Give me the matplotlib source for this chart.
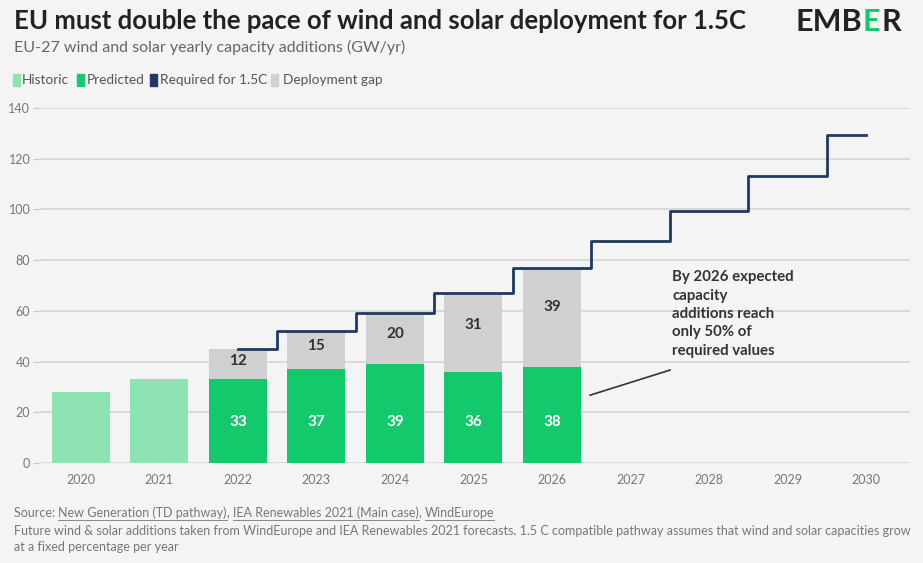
import numpy as np
import matplotlib.pyplot as plt

years = np.arange(2020, 2031)
hist_years = [2020, 2021]
hist_vals = [28, 33]
pred_years = [2022, 2023, 2024, 2025, 2026]
pred_vals = [33, 37, 39, 36, 38]
gap_vals = [12, 15, 20, 31, 39]
req_years = [2022, 2023, 2024, 2025, 2026, 2027, 2028, 2029, 2030]
req_vals = [45, 52, 59, 67, 77, 87.5, 99.5, 113, 129.5]

c_hist = '#8de3b1'
c_pred = '#12c96c'
c_req = '#1f3864'
c_gap = '#d0d0d0'
bg = '#f4f4f4'

plt.rcParams['font.family'] = ['Lato', 'DejaVu Sans']

fig = plt.figure(figsize=(9.23, 5.63), dpi=100, facecolor=bg)
ax = fig.add_axes([40/923, 1-463/563, 870/923, 355/563], facecolor=bg)

w = 0.74
ax.bar(hist_years, hist_vals, width=w, color=c_hist, zorder=2)
ax.bar(pred_years, pred_vals, width=w, color=c_pred, zorder=2)
ax.bar(pred_years, gap_vals, width=w, bottom=pred_vals, color=c_gap, zorder=2)
ax.plot(req_years, req_vals, drawstyle='steps-mid', color=c_req, lw=2, zorder=3)

for x, p, g in zip(pred_years, pred_vals, gap_vals):
    ax.text(x, 16, str(p), ha='center', va='center', color='white',
            fontsize=11, fontweight='bold', zorder=4)
    ax.text(x, p + g*0.6, str(g), ha='center', va='center', color='#333333',
            fontsize=11, fontweight='bold', zorder=4)

ax.set_xlim(2019.48, 2030.56)
ax.set_ylim(0, 140)
ax.set_yticks(np.arange(0, 141, 20))
ax.set_xticks(years)
ax.grid(axis='y', color='#d8d8d8', lw=1.3, zorder=0)
for s in ax.spines.values():
    s.set_visible(False)
ax.tick_params(axis='y', length=5, color='#cccccc', labelcolor='#777777', labelsize=9, pad=2)
ax.tick_params(axis='x', length=0, labelcolor='#777777', labelsize=9, pad=8)

# annotation
ax.annotate('', xy=(2026.45, 26.4), xytext=(2027.54, 37),
            arrowprops=dict(arrowstyle='-', color='#333333', lw=1.2))
ax.text(2027.53, 76, 'By 2026 expected\ncapacity\nadditions reach\nonly 50% of\nrequired values',
        ha='left', va='top', fontsize=10.8, fontweight='bold', color='#333333',
        linespacing=1.4)

# header
fig.text(14/923, 1-21/563, 'EU must double the pace of wind and solar deployment for 1.5C',
         fontsize=18.5, fontweight='bold', color='#222222', va='center')
fig.text(14/923, 1-47/563, 'EU-27 wind and solar yearly capacity additions (GW/yr)',
         fontsize=11.5, color='#666666', va='center')

# legend
leg = [('Historic', c_hist, 13, 22), ('Predicted', c_pred, 77, 87),
       ('Required for 1.5C', c_req, 150, 160), ('Deployment gap', c_gap, 271, 283)]
for label, col, sx, tx in leg:
    fig.patches.append(plt.Rectangle((sx/923, 1-86/563), 7/923, 12/563,
                                     transform=fig.transFigure, color=col))
    fig.text(tx/923, 1-80/563, label, fontsize=9.8, color='#555555', va='center')

# footer
fs = 9
src = fig.text(14/923, 1-513/563, 'Source: ', fontsize=fs, color='#777777', va='center')
fig.text(14/923, 1-531/563, 'Future wind & solar additions taken from WindEurope and IEA Renewables 2021 forecasts. '
         '1.5 C compatible pathway assumes that wind and solar capacities grow',
         fontsize=fs, color='#777777', va='center')
fig.text(14/923, 1-547/563, 'at a fixed percentage per year',
         fontsize=fs, color='#777777', va='center')

fig.canvas.draw()
r = fig.canvas.get_renderer()
inv = fig.transFigure.inverted()

def right_of(t):
    bb = t.get_window_extent(r)
    return inv.transform((bb.x1, bb.y0))[0]

links = ['New Generation (TD pathway)', ', ', 'IEA Renewables 2021 (Main case)', ', ', 'WindEurope']
x = right_of(src)
for part in links:
    t = fig.text(x, 1-513/563, part, fontsize=fs, color='#777777', va='center')
    bb = t.get_window_extent(r)
    x1 = inv.transform((bb.x1, bb.y0))[0]
    if part.strip(', '):
        fig.add_artist(plt.Line2D([x, x1], [1-520/563, 1-520/563], color='#888888', lw=0.7,
                                  transform=fig.transFigure))
    x = x1

# logo
x = 795/923
for ch, col in [('EMB', '#222222'), ('E', c_pred), ('R', '#222222')]:
    t = fig.text(x, 1-22/563, ch, fontsize=22, fontweight='bold', color=col, va='center')
    x = right_of(t) + 1/923

fig.savefig('out.png', dpi=100, facecolor=bg)
